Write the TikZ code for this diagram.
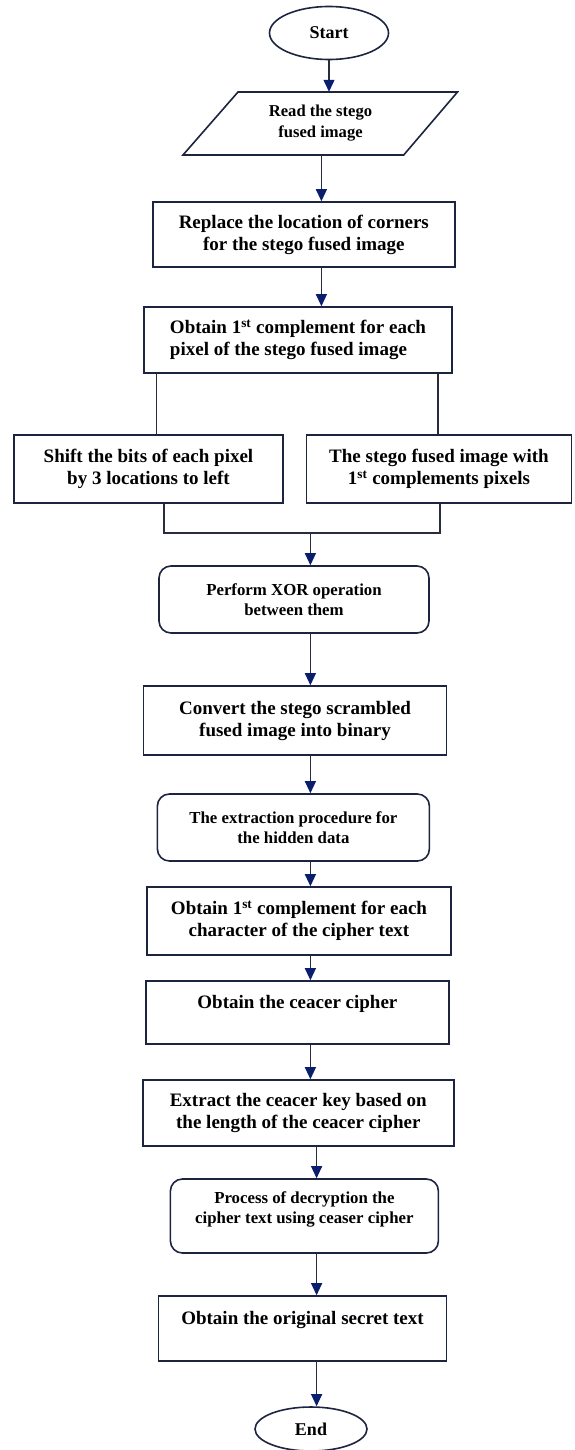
\documentclass[tikz,border=0pt]{standalone}
\usepackage{fontspec}
\setmainfont{Liberation Serif}
\usetikzlibrary{arrows.meta,shapes.geometric}
\definecolor{boxc}{RGB}{28,36,64}
\definecolor{linec}{RGB}{40,44,60}
\definecolor{tipc}{RGB}{10,30,110}
\tikzset{
  base/.style={draw=boxc, line width=1.6pt, align=center, inner sep=2pt,
    font=\fontsize{19}{22}\selectfont\bfseries},
  rect/.style={base, rectangle},
  rbox/.style={base, rounded corners=12pt, font=\fontsize{16.8}{20}\selectfont\bfseries},
  term/.style={base, ellipse, inner sep=0pt, font=\fontsize{18}{20}\selectfont\bfseries},
  conn/.style={draw=linec, line width=1.2pt},
  arr/.style={conn, -{Triangle[width=11pt,length=12pt,fill=tipc,color=tipc]}},
}
\begin{document}
\begin{tikzpicture}[x=1pt,y=-1pt]
\useasboundingbox (0,0) rectangle (574,1450);
\coordinate (c1) at (321.4,0);
\coordinate (c2) at (310.4,0);
\coordinate (c3) at (316.6,0);
\coordinate (L1) at (156.7,0);
\coordinate (R1) at (438,0);
\coordinate (L2) at (164,0);
\coordinate (R2) at (440,0);
\coordinate (merge) at (0,533);

\node[term, minimum width=119pt, minimum height=53pt] (start) at (329,33) {Start};
\node[draw=none, align=center, minimum width=220pt, minimum height=63pt,
  font=\fontsize{16.6}{21}\selectfont\bfseries] (read) at (320.5,123.5) {Read the stego\\fused image};
\draw[draw=boxc, line width=1.6pt] (238,92) -- (457.5,92) -- (403.7,155) -- (183,155) -- cycle;
\node[rect, minimum width=302pt, minimum height=65pt] (replace) at (303.8,234.5)
  {Replace the location of corners\\for the stego fused image};
\node[rect, minimum width=308pt, minimum height=66pt, align=left] (obtain) at (298,340)
  {Obtain 1\textsuperscript{st} complement for each\\pixel of the stego fused image};
\node[rect, minimum width=269pt, minimum height=68pt] (shift) at (148.5,469)
  {Shift the bits of each pixel\\by 3 locations to left};
\node[rect, minimum width=265pt, minimum height=68pt] (stego) at (439,469)
  {The stego fused image with\\1\textsuperscript{st} complements pixels};
\node[rbox, minimum width=270pt, minimum height=67pt] (xor) at (294,599.5)
  {Perform XOR operation\\between them};
\node[rect, minimum width=303pt, minimum height=69pt] (convert) at (295,720.5)
  {Convert the stego scrambled\\fused image into binary};
\node[rbox, minimum width=272pt, minimum height=67pt] (extract) at (293.4,827.5)
  {The extraction procedure for\\the hidden data};
\node[rect, minimum width=304pt, minimum height=68pt] (charc) at (299,921)
  {Obtain 1\textsuperscript{st} complement for each\\character of the cipher text};
\node[rect, minimum width=303pt, minimum height=63pt] (ceacer) at (297.4,1012.5)
  {Obtain the ceacer cipher\\\mbox{}};
\node[rect, minimum width=311pt, minimum height=66pt] (key) at (298.3,1113)
  {Extract the ceacer key based on\\the length of the ceacer cipher};
\node[rbox, minimum width=268pt, minimum height=74pt] (decrypt) at (304.4,1216)
  {Process of decryption the\\cipher text using ceaser cipher\\[-4pt]\mbox{}};
\node[rect, minimum width=288pt, minimum height=65pt] (orig) at (302.5,1328.5)
  {Obtain the original secret text\\\mbox{}};
\node[term, minimum width=112pt, minimum height=44pt] (end) at (311,1429) {End};

\draw[arr] (start.south) -- (start.south |- read.north);
\draw[arr] (read.south -| c1) -- (replace.north -| c1);
\draw[arr] (replace.south -| c1) -- (obtain.north -| c1);
\draw[conn] (obtain.south -| L1) -- (shift.north -| L1);
\draw[conn] (obtain.south -| R1) -- (stego.north -| R1);
\draw[conn] (shift.south -| L2) -- (merge -| L2) -- (merge -| R2) -- (stego.south -| R2);
\draw[arr] (merge -| c2) -- (xor.north -| c2);
\draw[arr] (xor.south -| c2) -- (convert.north -| c2);
\draw[arr] (convert.south -| c2) -- (extract.north -| c2);
\draw[arr] (extract.south -| c2) -- (charc.north -| c2);
\draw[arr] (charc.south -| c2) -- (ceacer.north -| c2);
\draw[arr] (ceacer.south -| c2) -- (key.north -| c2);
\draw[arr] (key.south -| c3) -- (decrypt.north -| c3);
\draw[arr] (decrypt.south -| c3) -- (orig.north -| c3);
\draw[arr] (orig.south -| c3) -- (end.north -| c3);
\end{tikzpicture}
\end{document}
